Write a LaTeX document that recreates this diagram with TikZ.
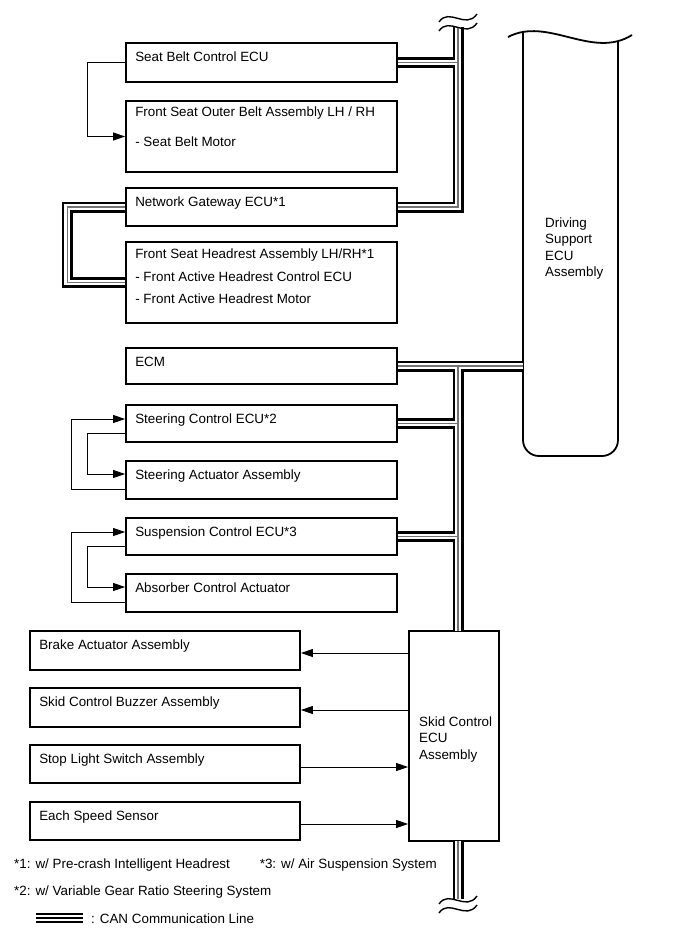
\documentclass[tikz,border=0pt]{standalone}
\usepackage{fontspec}
\setmainfont{Liberation Sans}
\usetikzlibrary{arrows.meta,calc}
\begin{document}
\begin{tikzpicture}[x=1pt,y=-1pt,
  box/.style={draw,line width=1.8pt,inner sep=0pt},
  txt/.style={anchor=base west,inner sep=0pt,font=\fontsize{13.4}{16}\selectfont},
  thinl/.style={line width=1pt},
  arr/.style={thinl,-{Triangle[length=12pt,width=8pt]}},
  canA/.style={line width=11pt,black,line join=miter},
  canB/.style={line width=5.6pt,white,line join=miter},
  canC/.style={line width=1.1pt,black!55,line join=miter},
  wave/.style={line width=1.4pt},
]
\useasboundingbox (0,0) rectangle (689,950);

% boxes (upper column)
\node[box,minimum width=271pt,minimum height=39pt] (sb)   at (261.5,62.5) {};
\node[box,minimum width=271pt,minimum height=71pt] (fso)  at (261.5,136.5) {};
\node[box,minimum width=271pt,minimum height=38pt] (gw)   at (261.5,207) {};
\node[box,minimum width=271pt,minimum height=81pt] (hr)   at (261.5,282.5) {};
\node[box,minimum width=271pt,minimum height=36pt] (ecm)  at (261.5,366) {};
\node[box,minimum width=271pt,minimum height=37pt] (sc)   at (261.5,423.5) {};
\node[box,minimum width=271pt,minimum height=38pt] (sa)   at (261.5,480) {};
\node[box,minimum width=271pt,minimum height=37pt] (susp) at (261.5,536.5) {};
\node[box,minimum width=271pt,minimum height=38pt] (abs)  at (261.5,593) {};
% left column
\node[box,minimum width=270pt,minimum height=39pt] (brake)  at (165,650.5) {};
\node[box,minimum width=270pt,minimum height=39pt] (buzz)   at (165,707.5) {};
\node[box,minimum width=270pt,minimum height=38pt] (stop)   at (165,764) {};
\node[box,minimum width=270pt,minimum height=38pt] (speed)  at (165,821) {};
% skid control ECU
\node[box,minimum width=90pt,minimum height=210pt] (skid) at (454,736) {};

% texts
\node[txt] (t1) at ($(sb.north west)+(10,19)$) {Seat Belt Control ECU};
\node[txt] (t2) at ($(fso.north west)+(10,16)$) {Front Seat Outer Belt Assembly LH / RH};
\node[txt] (t3) at ($(fso.north west)+(10,46)$) {- Seat Belt Motor};
\node[txt] (t4) at ($(gw.north west)+(10,19)$) {Network Gateway ECU*1};
\node[txt] (t5) at ($(hr.north west)+(10,17)$) {Front Seat Headrest Assembly LH/RH*1};
\node[txt] (t6) at ($(hr.north west)+(10,40)$) {- Front Active Headrest Control ECU};
\node[txt] (t7) at ($(hr.north west)+(10,62.5)$) {- Front Active Headrest Motor};
\node[txt] (t8) at ($(ecm.north west)+(10,19)$) {ECM};
\node[txt] (t9) at ($(sc.north west)+(10,19)$) {Steering Control ECU*2};
\node[txt] (t10) at ($(sa.north west)+(10,19)$) {Steering Actuator Assembly};
\node[txt] (t11) at ($(susp.north west)+(10,19)$) {Suspension Control ECU*3};
\node[txt] (t12) at ($(abs.north west)+(10,19)$) {Absorber Control Actuator};
\node[txt] (t13) at ($(brake.north west)+(10,19)$) {Brake Actuator Assembly};
\node[txt] (t14) at ($(buzz.north west)+(10,19)$) {Skid Control Buzzer Assembly};
\node[txt] (t15) at ($(stop.north west)+(10,19)$) {Stop Light Switch Assembly};
\node[txt] (t16) at ($(speed.north west)+(10,19)$) {Each Speed Sensor};
\node[txt] (s1) at (419,726) {Skid Control};
\node[txt] (s2) at (419,742.5) {ECU};
\node[txt] (s3) at (419,759) {Assembly};
\node[txt] (d1) at (545,227) {Driving};
\node[txt] (d2) at (545,243.5) {Support};
\node[txt] (d3) at (545,260) {ECU};
\node[txt] (d4) at (545,276.5) {Assembly};
\node[txt] (f1) at (14,868) {*1: w/ Pre-crash Intelligent Headrest};
\node[txt,anchor=base east] (f3) at (437,868) {*3: w/ Air Suspension System};
\node[txt] (f2) at (14,895) {*2: w/ Variable Gear Ratio Steering System};
\node[txt] (lg) at (91,923) {: CAN Communication Line};

% driving support ECU assembly (broken-off top)
\draw[line width=1.8pt,rounded corners=16pt] (523,32) -- (523,456) -- (618,456) -- (618,41);
\draw[line width=1.8pt] (508,37) .. controls (548,16) and (592,60) .. (632,35);

% coordinates for the bus
\coordinate (bx) at (458,0);
\coordinate (bustop) at (458,27);
\coordinate (busbot) at (458,899);
\coordinate (skidtop) at (458,631);
\coordinate (skidbot) at (458,841);
\coordinate (dsw) at (523,366);
\coordinate (lgA) at (36,918);
\coordinate (lgB) at (83,918);

\def\canpaths{
  (bustop) -- (gw.east -| bx) -- (gw.east)
  (sb.east) -- (sb.east -| bx)
  (gw.west) -- ++(-58,0) |- (hr.west)
  (ecm.east) -- (dsw)
  (ecm.east -| bx) -- (skidtop)
  (sc.east) -- (sc.east -| bx)
  (susp.east) -- (susp.east -| bx)
  (skidbot) -- (busbot)
}
\draw[canA] \canpaths;
\draw[canB] \canpaths;
\draw[canC] \canpaths;

% legend line
\draw[line width=2.2pt] ($(lgA)+(0,-4)$) -- ($(lgB)+(0,-4)$);
\draw[line width=2.2pt] (lgA) -- (lgB);
\draw[line width=2.2pt] ($(lgA)+(0,4)$) -- ($(lgB)+(0,4)$);

% break symbols on the bus
\draw[wave] (439,22) .. controls (449,7) and (466,30) .. (477,14);
\draw[wave] (439,31) .. controls (449,16) and (466,39) .. (477,23);
\draw[wave] (439,904) .. controls (449,889) and (466,912) .. (477,896);
\draw[wave] (439,913) .. controls (449,898) and (466,921) .. (477,905);

% local connections
\draw[arr] (sb.west) -- ++(-38,0) |- (fso.west);
\draw[arr] ($(sa.west)+(0,9)$) -- ++(-54,0) |- ($(sc.west)+(0,-4.5)$);
\draw[arr] ($(sc.west)+(0,9.5)$) -- ++(-38,0) |- ($(sa.west)+(0,-6)$);
\draw[arr] ($(abs.west)+(0,9)$) -- ++(-54,0) |- ($(susp.west)+(0,-4.5)$);
\draw[arr] ($(susp.west)+(0,9.5)$) -- ++(-38,0) |- ($(abs.west)+(0,-6)$);

% skid control ECU signals
\draw[arr] ($(skid.west |- brake.east)+(0,2.5)$) -- ($(brake.east)+(0,2.5)$);
\draw[arr] ($(skid.west |- buzz.east)+(0,2.5)$) -- ($(buzz.east)+(0,2.5)$);
\draw[arr] ($(stop.east)+(0,3)$) -- ($(skid.west |- stop.east)+(0,3)$);
\draw[arr] ($(speed.east)+(0,3)$) -- ($(skid.west |- speed.east)+(0,3)$);
\end{tikzpicture}
\end{document}
